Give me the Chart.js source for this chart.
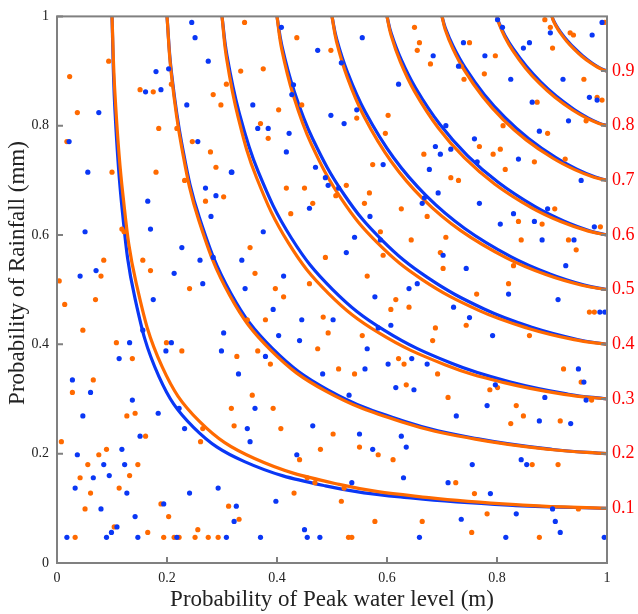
<!DOCTYPE html>
<html><head><meta charset="utf-8">
<script src="https://cdn.jsdelivr.net/npm/chart.js@4.4.1/dist/chart.umd.min.js"></script>
<style>html,body{margin:0;padding:0;background:#fff;}canvas{display:block;}</style>
</head><body>
<canvas id="c" width="638" height="614"></canvas>
<script>
// ---- tick labels ----
const xTicks = [0, 0.2, 0.4, 0.6, 0.8, 1];
const yTicks = [0, 0.2, 0.4, 0.6, 0.8, 1];
const rightTicks = [0.1, 0.2, 0.3, 0.4, 0.5, 0.6, 0.7, 0.8, 0.9];
const levels = [0.1, 0.2, 0.3, 0.4, 0.5, 0.6, 0.7, 0.8, 0.9];
const xTitle = 'Probability of Peak water level (m)';
const yTitle = 'Probability of Rainfall (mm)';

// ---- contour lines (symmetric: y values are the x list read backwards) ----
const orange1 = [0.1, 0.1055, 0.1196, 0.1438, 0.1915, 0.2590, 0.3582, 0.5129, 0.6759, 0.8563, 1];
const orange2 = [0.2, 0.2076, 0.2267, 0.2578, 0.3149, 0.3890, 0.4879, 0.6271, 0.7605, 0.8972, 1];
const orange3 = [0.3, 0.3085, 0.3295, 0.3627, 0.4213, 0.4934, 0.5846, 0.7053, 0.8148, 0.9221, 1];
const orange4 = [0.4, 0.4086, 0.4296, 0.4622, 0.5180, 0.5841, 0.6646, 0.7667, 0.8557, 0.9401, 1];
const orange5 = [0.5, 0.5081, 0.5277, 0.5578, 0.6080, 0.6658, 0.7341, 0.8179, 0.8888, 0.9544, 1];
const orange6 = [0.6, 0.6072, 0.6243, 0.6503, 0.6930, 0.7410, 0.7963, 0.8623, 0.9168, 0.9662, 1];
const orange7 = [0.7, 0.7058, 0.7197, 0.7405, 0.7741, 0.8112, 0.8530, 0.9017, 0.9411, 0.9762, 1];
const orange8 = [0.8, 0.8042, 0.8140, 0.8287, 0.8520, 0.8773, 0.9053, 0.9373, 0.9628, 0.9851, 1];
const orange9 = [0.9, 0.9022, 0.9074, 0.9151, 0.9271, 0.9401, 0.9541, 0.9699, 0.9822, 0.9929, 1];

const blue1 = [0.1, 0.1051, 0.1184, 0.1410, 0.1854, 0.2482, 0.3410, 0.4881, 0.6479, 0.8341, 1];
const blue2 = [0.2, 0.2077, 0.2271, 0.2587, 0.3168, 0.3920, 0.4923, 0.6327, 0.7662, 0.9013, 1];
const blue3 = [0.3, 0.3088, 0.3306, 0.3653, 0.4261, 0.5008, 0.5946, 0.7173, 0.8263, 0.9298, 1];
const blue4 = [0.4, 0.4089, 0.4307, 0.4646, 0.5225, 0.5908, 0.6733, 0.7766, 0.8648, 0.9461, 1];
const blue5 = [0.5, 0.5084, 0.5288, 0.5600, 0.6120, 0.6716, 0.7413, 0.8259, 0.8960, 0.9589, 1];
const blue6 = [0.6, 0.6075, 0.6253, 0.6523, 0.6964, 0.7458, 0.8021, 0.8685, 0.9222, 0.9696, 1];
const blue7 = [0.7, 0.7061, 0.7205, 0.7420, 0.7767, 0.8148, 0.8573, 0.9063, 0.9450, 0.9787, 1];
const blue8 = [0.8, 0.8043, 0.8145, 0.8297, 0.8538, 0.8797, 0.9081, 0.9403, 0.9652, 0.9866, 1];
const blue9 = [0.9, 0.9023, 0.9077, 0.9156, 0.9281, 0.9413, 0.9555, 0.9713, 0.9834, 0.9936, 1];

// ---- scatter samples ----
const blueX = [0.245,0.251,0.275,0.180,0.203,0.189,0.161,0.236,0.076,0.022,0.256,0.056,0.317,0.270,0.289,
0.408,0.555,0.474,0.517,0.621,0.430,0.427,0.356,0.545,0.498,0.522,0.365,0.384,0.422,0.417,0.593,0.470,0.318,0.488,0.493,0.512,
0.801,0.810,0.991,0.897,0.973,0.739,0.859,0.848,0.684,0.778,0.730,0.825,0.920,0.968,0.982,0.864,0.930,0.707,0.759,0.877,0.688,0.697,0.716,0.764,0.839,0.677,0.953,0.668,0.693,
0.165,0.170,0.051,0.227,0.260,0.284,0.071,0.042,0.213,0.265,0.175,0.156,0.303,0.132,0.208,0.198,0.299,0.113,0.280,0.330,
0.664,0.459,0.375,0.541,0.588,0.336,0.526,0.412,0.342,0.640,0.655,0.578,0.393,0.445,0.502,0.607,0.584,0.403,0.441,0.564,0.379,0.645,0.602,0.560,0.483,0.569,
0.768,0.830,0.892,0.868,0.806,0.977,0.882,0.940,0.702,0.744,0.925,0.821,0.911,0.721,0.750,0.987,0.996,0.792,0.673,0.948,
0.028,0.061,0.047,0.137,0.184,0.222,0.232,0.151,0.037,0.085,0.123,0.118,0.095,0.066,0.033,0.127,0.241,0.293,0.194,0.080,0.142,0.326,0.322,0.109,0.099,0.018,0.090,0.147,0.218,0.308,
0.360,0.346,0.351,0.465,0.436,0.550,0.574,0.626,0.635,0.616,0.649,0.630,0.531,0.398,0.450,0.455,0.478,0.370,0.659,0.536,
0.958,0.797,0.962,0.887,0.782,0.726,0.877,0.934,0.755,0.844,0.854,0.711,0.788,0.901,0.735,0.835,0.906,0.915,0.816,0.995];
const blueY = [0.989,0.961,0.918,0.899,0.904,0.866,0.862,0.838,0.824,0.771,0.771,0.715,0.715,0.686,0.672,
0.980,0.961,0.938,0.915,0.876,0.875,0.857,0.838,0.829,0.819,0.804,0.795,0.795,0.786,0.752,0.729,0.724,0.715,0.705,0.691,0.686,
0.994,0.980,0.989,0.970,0.966,0.952,0.952,0.942,0.928,0.928,0.909,0.885,0.885,0.852,0.847,0.843,0.809,0.800,0.776,0.790,0.762,0.748,0.757,0.734,0.739,0.720,0.700,0.668,0.677,
0.662,0.611,0.606,0.577,0.554,0.559,0.535,0.525,0.530,0.511,0.482,0.426,0.421,0.403,0.403,0.388,0.388,0.374,0.634,0.346,
0.658,0.649,0.606,0.596,0.591,0.554,0.568,0.525,0.502,0.502,0.511,0.487,0.464,0.445,0.445,0.435,0.430,0.416,0.407,0.392,0.378,0.374,0.364,0.355,0.346,0.634,
0.658,0.639,0.648,0.625,0.620,0.615,0.591,0.591,0.563,0.539,0.544,0.492,0.482,0.468,0.449,0.459,0.459,0.416,0.364,0.355,
0.335,0.312,0.269,0.298,0.274,0.283,0.246,0.232,0.198,0.180,0.180,0.208,0.160,0.156,0.137,0.128,0.128,0.137,0.108,0.099,0.085,0.104,0.076,0.066,0.056,0.047,0.047,0.047,0.047,0.047,
0.283,0.246,0.222,0.251,0.198,0.236,0.208,0.232,0.212,0.321,0.317,0.156,0.307,0.113,0.061,0.047,0.047,0.047,0.047,0.147,
0.331,0.326,0.298,0.303,0.288,0.269,0.260,0.255,0.180,0.189,0.180,0.147,0.127,0.099,0.080,0.090,0.076,0.056,0.047,0.047];

const orangeX = [0.094,0.023,0.151,0.175,0.208,0.284,0.298,0.308,0.037,0.185,0.218,0.018,0.246,0.279,0.289,0.100,0.180,0.232,0.303,0.334,
0.341,0.436,0.498,0.650,0.659,0.655,0.375,0.403,0.445,0.370,0.384,0.545,0.602,0.597,0.574,0.667,0.417,0.450,0.526,0.568,0.507,
0.887,0.897,0.933,0.939,0.996,0.750,0.901,0.679,0.735,0.797,0.740,0.777,0.958,0.982,0.991,0.873,0.962,0.811,0.892,0.768,0.806,0.793,0.868,0.924,0.815,0.716,0.730,
0.118,0.122,0.085,0.080,0.004,0.014,0.070,0.156,0.170,0.241,0.047,0.108,0.199,0.227,0.137,0.327,0.270,
0.465,0.559,0.626,0.425,0.588,0.644,0.351,0.593,0.488,0.360,0.564,0.459,0.397,0.412,0.616,0.607,0.640,0.346,0.379,0.484,0.493,0.555,0.474,0.365,0.388,0.621,0.631,0.512,0.541,
0.673,0.707,0.697,0.702,0.839,0.882,0.905,0.844,0.930,0.944,0.830,0.821,0.763,0.988,0.968,0.977,0.744,0.688,0.683,0.859,0.921,0.692,
0.066,0.028,0.127,0.142,0.161,0.008,0.090,0.076,0.056,0.147,0.042,0.132,0.061,0.113,0.051,0.189,0.203,0.312,0.331,0.104,0.165,0.256,0.033,0.194,0.213,0.222,0.251,0.275,0.293,0.317,0.322,0.261,0.265,
0.635,0.355,0.393,0.407,0.502,0.479,0.550,0.584,0.611,0.441,0.455,0.469,0.522,0.431,0.517,0.578,0.664,0.530,0.536,
0.953,0.787,0.801,0.711,0.972,0.835,0.848,0.825,0.915,0.864,0.911,0.725,0.759,0.782,0.948,0.754,0.877];
const orangeY = [0.918,0.890,0.866,0.862,0.876,0.857,0.838,0.876,0.824,0.795,0.795,0.771,0.771,0.752,0.724,0.715,0.715,0.700,0.670,0.900,
0.989,0.961,0.938,0.980,0.952,0.938,0.904,0.829,0.838,0.804,0.777,0.814,0.819,0.786,0.729,0.748,0.686,0.686,0.691,0.677,0.672,
0.994,0.980,0.970,0.966,0.989,0.952,0.942,0.913,0.909,0.928,0.885,0.895,0.885,0.852,0.847,0.843,0.809,0.800,0.786,0.762,0.757,0.748,0.734,0.739,0.720,0.705,0.700,
0.611,0.606,0.554,0.525,0.516,0.473,0.482,0.554,0.535,0.502,0.426,0.403,0.403,0.388,0.374,0.378,0.662,
0.658,0.658,0.648,0.639,0.606,0.591,0.577,0.563,0.559,0.530,0.525,0.511,0.502,0.487,0.482,0.464,0.468,0.445,0.445,0.450,0.421,0.416,0.392,0.388,0.364,0.374,0.364,0.355,0.346,
0.634,0.596,0.568,0.539,0.625,0.620,0.648,0.591,0.591,0.573,0.544,0.511,0.492,0.615,0.459,0.459,0.435,0.430,0.407,0.416,0.355,0.346,
0.335,0.312,0.269,0.274,0.232,0.222,0.208,0.198,0.180,0.180,0.156,0.160,0.128,0.137,0.099,0.108,0.085,0.104,0.080,0.066,0.056,0.061,0.047,0.047,0.047,0.047,0.047,0.047,0.047,0.283,0.251,0.222,0.246,
0.326,0.307,0.283,0.246,0.236,0.208,0.212,0.198,0.189,0.189,0.156,0.147,0.137,0.128,0.113,0.076,0.076,0.047,0.047,
0.331,0.317,0.321,0.303,0.298,0.288,0.269,0.255,0.260,0.180,0.180,0.147,0.127,0.090,0.099,0.056,0.047];

// ---- styles ----
const BLUE = '#0a37f5';
const ORANGE = '#ff6a00';
const SERIF = '"Liberation Serif", "Times New Roman", serif';

function curve(list) {
  const n = list.length;
  return list.map((x, i) => ({ x: x, y: list[n - 1 - i] }));
}
function pts(xs, ys) { return xs.map((x, i) => ({ x: x, y: ys[i] })); }

const orangeCurves = [orange1, orange2, orange3, orange4, orange5, orange6, orange7, orange8, orange9];
const blueCurves = [blue1, blue2, blue3, blue4, blue5, blue6, blue7, blue8, blue9];

const datasets = [];
datasets.push({ label: 'blue samples', data: pts(blueX, blueY), backgroundColor: BLUE, borderColor: BLUE,
  pointRadius: 2.6, pointBorderWidth: 0, order: 0 });
datasets.push({ label: 'orange samples', data: pts(orangeX, orangeY), backgroundColor: ORANGE, borderColor: ORANGE,
  pointRadius: 2.6, pointBorderWidth: 0, order: 1 });
orangeCurves.forEach((c, k) => datasets.push({ label: 'orange ' + levels[k], data: curve(c), showLine: true,
  borderColor: ORANGE, borderWidth: 3.2, pointRadius: 0, tension: 0.4, fill: false, order: 2 }));
blueCurves.forEach((c, k) => datasets.push({ label: 'blue ' + levels[k], data: curve(c), showLine: true,
  borderColor: BLUE, borderWidth: 3.2, pointRadius: 0, tension: 0.4, fill: false, order: 3 }));

const frame = {
  id: 'frame',
  afterDatasetsDraw(chart) {
    const { ctx, chartArea: a, scales } = chart;
    ctx.save();
    ctx.strokeStyle = '#808080';
    ctx.lineWidth = 2;
    ctx.strokeRect(a.left, a.top, a.right - a.left, a.bottom - a.top);
    ctx.beginPath();
    xTicks.forEach(v => { const p = scales.x.getPixelForValue(v); ctx.moveTo(p, a.bottom); ctx.lineTo(p, a.bottom - 6); });
    yTicks.forEach(v => { const p = scales.y.getPixelForValue(v); ctx.moveTo(a.left, p); ctx.lineTo(a.left + 6, p); });
    rightTicks.forEach(v => { const p = scales.y2.getPixelForValue(v); ctx.moveTo(a.right, p); ctx.lineTo(a.right - 6, p); });
    ctx.stroke();
    // y-axis title (placed slightly above the axis centre, as in the original)
    ctx.translate(18, 273);
    ctx.rotate(-Math.PI / 2);
    ctx.fillStyle = '#222';
    ctx.font = '23px ' + SERIF;
    ctx.textAlign = 'center';
    ctx.textBaseline = 'middle';
    ctx.fillText(yTitle, 0, 0);
    ctx.restore();
  }
};

const fmt = v => String(Math.round(v * 10) / 10);

new Chart(document.getElementById('c'), {
  type: 'scatter',
  data: { datasets: datasets },
  options: {
    responsive: false,
    animation: false,
    devicePixelRatio: 1,
    layout: { padding: { top: 12, left: 0, right: 0, bottom: 0 } },
    plugins: { legend: { display: false }, tooltip: { enabled: false } },
    scales: {
      x: {
        type: 'linear', position: 'bottom', min: 0, max: 1,
        afterBuildTicks: s => { s.ticks = xTicks.map(v => ({ value: v })); },
        afterFit: s => { s.height = 51; },
        grid: { display: false, drawTicks: false }, border: { display: false },
        ticks: { callback: fmt, font: { family: SERIF, size: 14 }, color: '#222', padding: 7, maxRotation: 0 },
        title: { display: true, text: xTitle, font: { family: SERIF, size: 23 }, color: '#222', padding: { top: 0, bottom: 0 } }
      },
      y: {
        type: 'linear', position: 'left', min: 0, max: 1,
        afterBuildTicks: s => { s.ticks = yTicks.map(v => ({ value: v })); },
        afterFit: s => { s.width = 57; },
        grid: { display: false, drawTicks: false }, border: { display: false },
        ticks: { callback: fmt, font: { family: SERIF, size: 14 }, color: '#222', padding: 8 }
      },
      y2: {
        type: 'linear', position: 'right', min: 0, max: 1,
        afterBuildTicks: s => { s.ticks = rightTicks.map(v => ({ value: v })); },
        afterFit: s => { s.width = 31; },
        grid: { display: false, drawTicks: false }, border: { display: false },
        ticks: { callback: fmt, font: { family: SERIF, size: 18 }, color: '#ff0000', padding: 5 }
      }
    }
  },
  plugins: [frame]
});
</script>
</body></html>
